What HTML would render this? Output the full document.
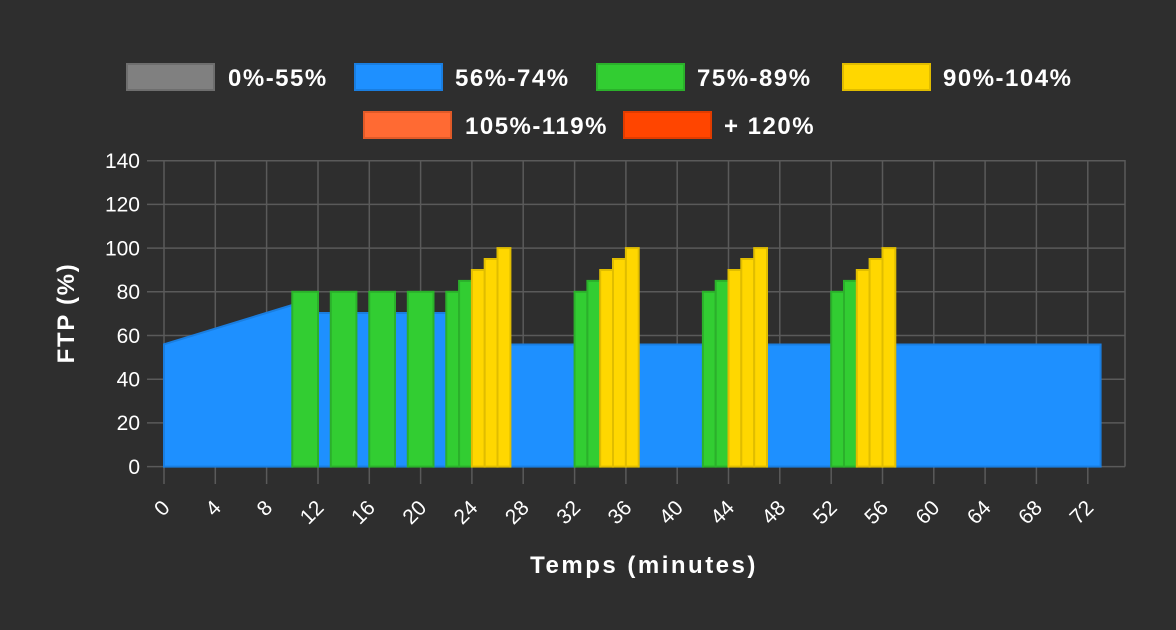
<!DOCTYPE html>
<html><head><meta charset="utf-8"><style>
html,body{margin:0;padding:0;background:#2e2e2e;}
svg{display:block;font-family:"Liberation Sans",sans-serif;}
</style></head><body>
<svg width="1176" height="630" viewBox="0 0 1176 630" xmlns="http://www.w3.org/2000/svg">
<rect width="1176" height="630" fill="#2e2e2e"/>
<g font-weight="bold" font-size="24" letter-spacing="1.5" fill="#fff">
<rect x="127" y="64" width="87" height="26" fill="#808080" stroke="#6e6e6e" stroke-width="2"/>
<text x="228" y="86">0%-55%</text>
<rect x="355" y="64" width="87" height="26" fill="#1e90ff" stroke="#1a7ee0" stroke-width="2"/>
<text x="455" y="86">56%-74%</text>
<rect x="597" y="64" width="87" height="26" fill="#32cd32" stroke="#2bb12b" stroke-width="2"/>
<text x="697" y="86">75%-89%</text>
<rect x="843" y="64" width="87" height="26" fill="#ffd700" stroke="#e0bc00" stroke-width="2"/>
<text x="943" y="86">90%-104%</text>
<rect x="364" y="112" width="87" height="26" fill="#ff6a33" stroke="#e05a28" stroke-width="2"/>
<text x="465" y="134">105%-119%</text>
<rect x="624" y="112" width="87" height="26" fill="#ff4500" stroke="#e03c00" stroke-width="2"/>
<text x="724" y="134">+ 120%</text>
</g>
<g stroke="#5a5a5a" stroke-width="1.5">
<line x1="147" y1="160.7" x2="1125" y2="160.7"/>
<line x1="147" y1="204.4" x2="1125" y2="204.4"/>
<line x1="147" y1="248.1" x2="1125" y2="248.1"/>
<line x1="147" y1="291.8" x2="1125" y2="291.8"/>
<line x1="147" y1="335.5" x2="1125" y2="335.5"/>
<line x1="147" y1="379.2" x2="1125" y2="379.2"/>
<line x1="147" y1="422.9" x2="1125" y2="422.9"/>
<line x1="147" y1="466.6" x2="1125" y2="466.6"/>
<line x1="164" y1="160" x2="164" y2="484"/>
<line x1="215.3" y1="160" x2="215.3" y2="484"/>
<line x1="266.6" y1="160" x2="266.6" y2="484"/>
<line x1="318" y1="160" x2="318" y2="484"/>
<line x1="369.3" y1="160" x2="369.3" y2="484"/>
<line x1="420.6" y1="160" x2="420.6" y2="484"/>
<line x1="471.9" y1="160" x2="471.9" y2="484"/>
<line x1="523.2" y1="160" x2="523.2" y2="484"/>
<line x1="574.6" y1="160" x2="574.6" y2="484"/>
<line x1="625.9" y1="160" x2="625.9" y2="484"/>
<line x1="677.2" y1="160" x2="677.2" y2="484"/>
<line x1="728.5" y1="160" x2="728.5" y2="484"/>
<line x1="779.8" y1="160" x2="779.8" y2="484"/>
<line x1="831.2" y1="160" x2="831.2" y2="484"/>
<line x1="882.5" y1="160" x2="882.5" y2="484"/>
<line x1="933.8" y1="160" x2="933.8" y2="484"/>
<line x1="985.1" y1="160" x2="985.1" y2="484"/>
<line x1="1036.4" y1="160" x2="1036.4" y2="484"/>
<line x1="1087.8" y1="160" x2="1087.8" y2="484"/>
<line x1="1125" y1="160" x2="1125" y2="466.6"/>
</g>
<g stroke-width="2">
<path d="M164 344.3 L292.3 305 L292.3 466.6 L164 466.6Z" fill="#1e90ff" stroke="#1a7ee0"/>
<g fill="#1e90ff" stroke="#1a7ee0">
<rect x="318" y="313" width="12.8" height="153.6"/>
<rect x="356.4" y="313" width="12.9" height="153.6"/>
<rect x="395" y="313" width="12.8" height="153.6"/>
<rect x="433.5" y="313" width="12.8" height="153.6"/>
<rect x="510.4" y="344.5" width="64.2" height="122.1"/>
<rect x="638.7" y="344.5" width="64.2" height="122.1"/>
<rect x="767" y="344.5" width="64.2" height="122.1"/>
<rect x="895.3" y="344.5" width="205.3" height="122.1"/>
</g>
<g fill="#32cd32" stroke="#2bb02b">
<rect x="292.3" y="291.8" width="25.7" height="174.8"/>
<rect x="330.8" y="291.8" width="25.6" height="174.8"/>
<rect x="369.3" y="291.8" width="25.7" height="174.8"/>
<rect x="407.8" y="291.8" width="25.7" height="174.8"/>
<rect x="446.3" y="291.8" width="12.8" height="174.8"/>
<rect x="459.1" y="280.9" width="12.8" height="185.7"/>
<rect x="574.6" y="291.8" width="12.8" height="174.8"/>
<rect x="587.4" y="280.9" width="12.8" height="185.7"/>
<rect x="702.9" y="291.8" width="12.8" height="174.8"/>
<rect x="715.7" y="280.9" width="12.8" height="185.7"/>
<rect x="831.2" y="291.8" width="12.8" height="174.8"/>
<rect x="844" y="280.9" width="12.8" height="185.7"/>
</g>
<g fill="#ffd700" stroke="#e0bd00">
<rect x="471.9" y="270" width="12.8" height="196.6"/>
<rect x="484.7" y="259" width="12.8" height="207.6"/>
<rect x="497.5" y="248.1" width="12.9" height="218.5"/>
<rect x="600.2" y="270" width="12.8" height="196.6"/>
<rect x="613" y="259" width="12.9" height="207.6"/>
<rect x="625.9" y="248.1" width="12.8" height="218.5"/>
<rect x="728.5" y="270" width="12.8" height="196.6"/>
<rect x="741.3" y="259" width="12.9" height="207.6"/>
<rect x="754.2" y="248.1" width="12.8" height="218.5"/>
<rect x="856.8" y="270" width="12.8" height="196.6"/>
<rect x="869.6" y="259" width="12.9" height="207.6"/>
<rect x="882.5" y="248.1" width="12.8" height="218.5"/>
</g>
</g>
<g fill="#fff" font-size="21" text-anchor="end">
<text x="140" y="168">140</text>
<text x="140" y="211.7">120</text>
<text x="140" y="255.4">100</text>
<text x="140" y="299.1">80</text>
<text x="140" y="342.8">60</text>
<text x="140" y="386.5">40</text>
<text x="140" y="430.2">20</text>
<text x="140" y="473.9">0</text>
</g>
<g fill="#fff" font-size="21" text-anchor="end">
<text transform="translate(171,509) rotate(-45)">0</text>
<text transform="translate(222.3,509) rotate(-45)">4</text>
<text transform="translate(273.6,509) rotate(-45)">8</text>
<text transform="translate(325,509) rotate(-45)">12</text>
<text transform="translate(376.3,509) rotate(-45)">16</text>
<text transform="translate(427.6,509) rotate(-45)">20</text>
<text transform="translate(478.9,509) rotate(-45)">24</text>
<text transform="translate(530.2,509) rotate(-45)">28</text>
<text transform="translate(581.6,509) rotate(-45)">32</text>
<text transform="translate(632.9,509) rotate(-45)">36</text>
<text transform="translate(684.2,509) rotate(-45)">40</text>
<text transform="translate(735.5,509) rotate(-45)">44</text>
<text transform="translate(786.8,509) rotate(-45)">48</text>
<text transform="translate(838.2,509) rotate(-45)">52</text>
<text transform="translate(889.5,509) rotate(-45)">56</text>
<text transform="translate(940.8,509) rotate(-45)">60</text>
<text transform="translate(992.1,509) rotate(-45)">64</text>
<text transform="translate(1043.4,509) rotate(-45)">68</text>
<text transform="translate(1094.8,509) rotate(-45)">72</text>
</g>
<text x="644" y="573" fill="#fff" font-size="24" letter-spacing="2.5" font-weight="bold" text-anchor="middle">Temps (minutes)</text>
<text transform="translate(74,313) rotate(-90)" fill="#fff" font-size="24" letter-spacing="1.7" font-weight="bold" text-anchor="middle">FTP (%)</text>
</svg>
</body></html>
